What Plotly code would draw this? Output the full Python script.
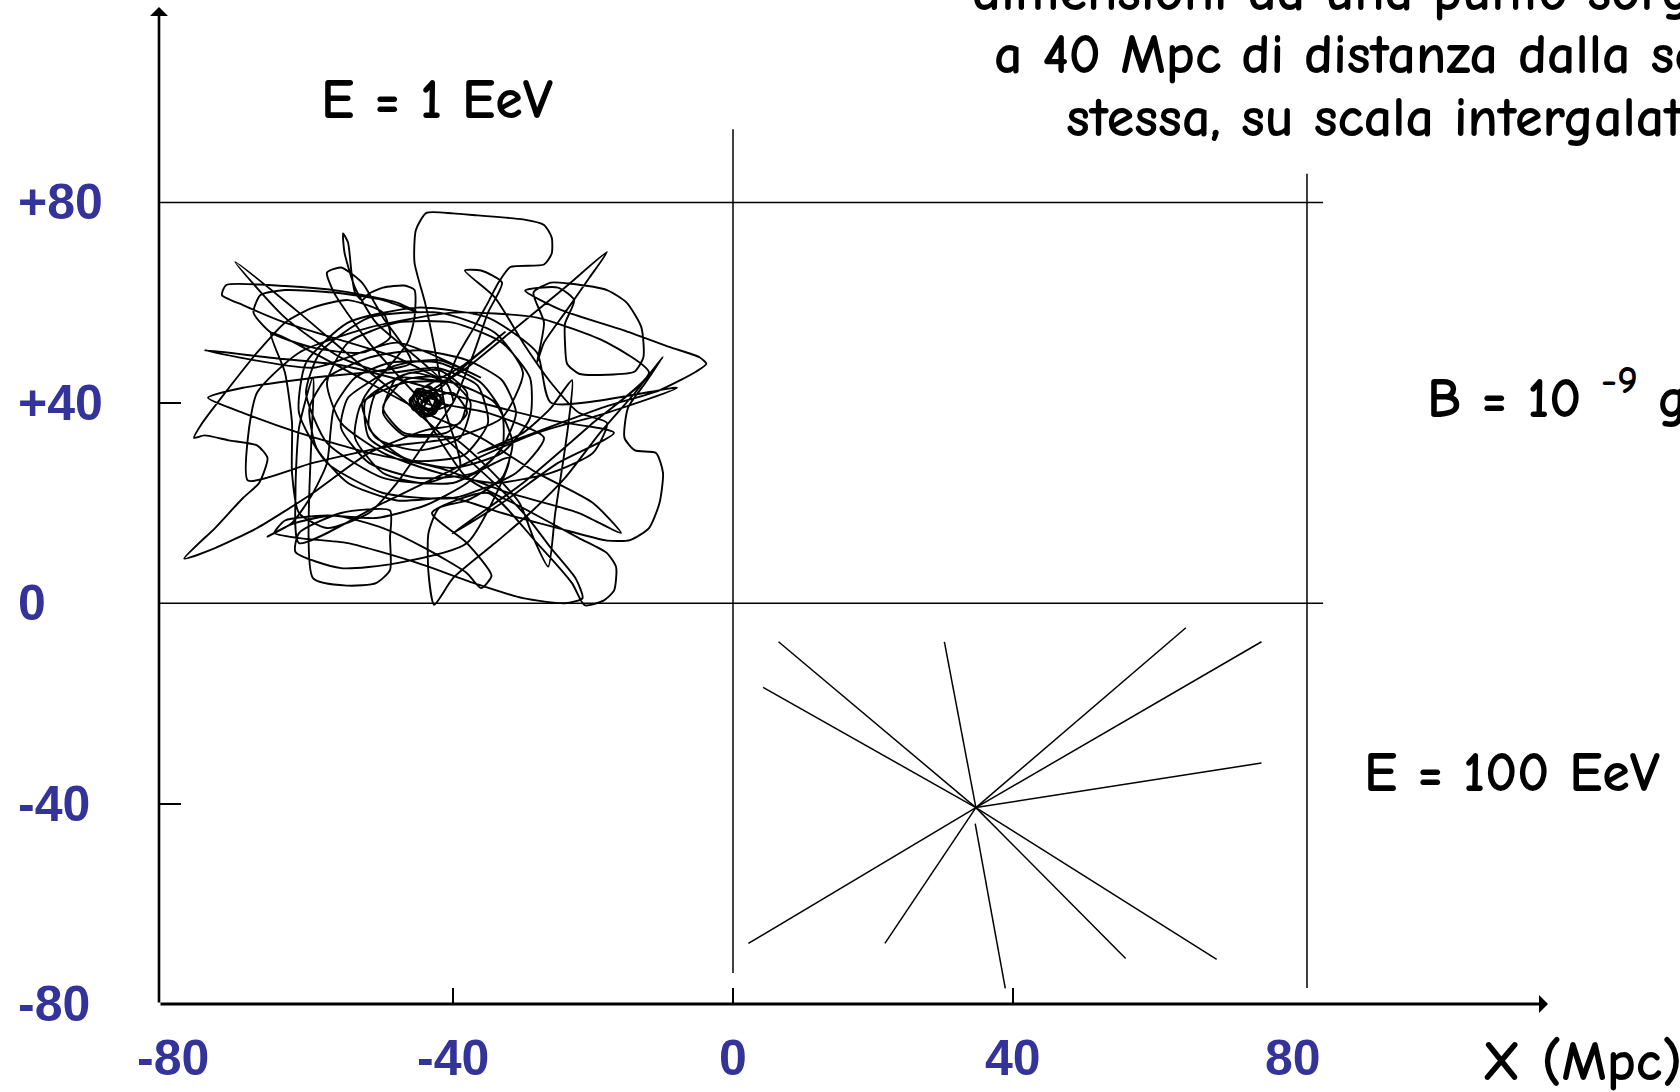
import plotly.graph_objects as go

# ---------------- data ----------------
x_tick_values = [-80, -40, 0, 40, 80]
x_tick_labels = ["-80", "-40", "0", "40", "80"]
y_tick_values = [80, 40, 0, -40, -80]
y_tick_labels = ["+80", "+40", "0", "-40", "-80"]
tick_marks_x = [-40, 0, 40]
tick_marks_y = [40, -40]

# E = 1 EeV : tangled trajectory around the source (Mpc)
walk_x = [-44.0, -42.8, -41.9, -43.6, -45.2, -44.1, -42.4, -43.1, -45.3, -44.6, -42.9, -41.4, -43.0, -45.7, -46.2, -44.0,
          -38.5, -32.6, -37.0, -41.0,
          -47.5, -52.5, -52.0, -46.0, -38.5, -35.0, -36.5, -42.5, -49.5,
          -56.0, -64.0, -71.1,
          -62.0, -54.0, -47.0, -40.0, -33.0, -29.0,
          -26.0, -22.5, -21.5, -24.0, -30.0, -37.0, -45.0, -55.0, -62.0, -65.5, -64.0, -58.0, -51.0,
          -44.0, -38.0, -33.0, -31.0, -33.0, -38.0, -45.0, -52.0, -58.0, -60.5, -59.5, -55.0, -48.0, -40.0,
          -33.0, -25.0, -18.0, -14.7, -12.0, -10.5, -10.0, -11.0, -14.0, -15.5, -15.0, -12.5, -10.0,
          -14.0, -19.0, -24.0, -29.0, -34.0, -40.0, -42.7, -43.5, -43.5, -42.0,
          -38.0, -33.0, -31.5, -34.0, -40.0, -47.0, -53.0, -54.0, -50.0, -44.0, -39.0,
          -41.0, -42.5, -44.0, -45.5, -45.3, -43.8, -40.0, -36.5, -30.0, -27.0, -25.9, -25.9, -27.0, -31.8,
          -33.5, -35.0, -37.0, -39.5, -41.0,
          -43.5, -44.8, -43.2, -42.6, -44.2,
          -38.0, -31.0, -24.0, -18.0, -20.5, -24.0, -27.0, -28.0,
          -27.0, -28.5, -26.0, -23.5, -18.0, -15.2, -13.1, -12.8, -14.1, -18.0, -22.0, -23.7, -24.0, -24.0, -22.7, -25.0,
          -29.7, -24.5, -15.7, -9.0, -4.8, -3.8, -5.3, -10.5, -18.3, -25.0, -31.3, -36.5,
          -30.0, -26.0, -23.0, -23.5, -24.3, -25.4, -26.4, -28.5, -30.5, -35.0,
          -40.0, -47.0, -50.0, -48.0, -42.0, -38.0, -39.0, -44.0,
          -52.0, -60.0, -68.0, -74.0, -78.4, -74.0, -70.0, -67.7, -66.5, -68.0, -72.0, -75.5, -77.0, -75.8, -72.0, -68.0, -64.0,
          -60.0, -55.0, -50.0, -49.0, -53.0, -60.0, -66.0, -68.5, -67.5, -64.0, -57.0, -50.0, -45.0,
          -48.0, -56.0, -64.0, -72.4, -73.0, -70.0, -64.0, -56.0, -48.0, -42.0,
          -46.0, -51.0, -54.0, -55.5, -55.7, -55.0, -54.5, -54.0, -53.0, -52.0, -50.0, -47.0, -45.5, -45.5, -46.5,
          -50.0, -55.0, -56.0, -52.0, -45.0, -37.0, -33.0, -33.0, -36.0, -42.0, -49.0, -54.0, -57.0,
          -58.0, -60.0, -63.0, -66.5, -63.0, -57.0, -50.0, -44.0, -38.0, -36.0, -34.5, -38.0, -43.0,
          -35.0, -28.0, -23.0, -21.2, -18.5, -17.0, -16.7, -18.0, -22.0, -30.0, -38.0,
          -43.0, -44.5, -43.5, -44.6,
          -40.0, -38.0, -41.0, -47.0, -50.0, -47.0, -41.0, -37.5, -39.0, -45.0, -51.0, -53.0, -49.0, -42.0, -36.0,
          -48.0, -60.0, -75.5, -66.0, -56.0, -46.0, -36.0, -26.0, -17.0,
          -25.0, -33.0, -40.1, -30.0, -20.0, -12.0,
          -18.0, -28.0, -40.0, -52.0, -62.0, -68.0, -69.3, -69.3, -60.0, -49.5, -40.0,
          -33.0, -30.0, -34.0, -42.0, -52.0, -59.0, -61.0, -58.0, -50.0, -40.0, -32.0,
          -38.0, -48.0, -56.0, -62.5, -62.0, -56.0, -49.0, -49.0, -49.0, -51.0, -55.0, -60.0,
          -60.0, -62.0, -62.5, -62.0, -50.0, -38.0, -28.0, -18.0, -8.0,
          -26.0, -28.0, -35.0, -45.0, -55.0, -61.0, -62.0, -58.0, -50.0, -40.0, -31.0, -27.0,
          -35.0, -42.0, -43.5, -44.6, -43.0, -42.3, -44.0, -45.8, -44.9, -43.2, -42.0, -43.3, -45.1, -46.0,
          -44.5, -42.6, -41.7, -43.4, -45.4, -44.3, -43.0, -44.1, -45.0, -43.7, -42.5, -44.0,
          -52.0, -57.0, -58.0, -56.0, -53.0, -50.0, -46.0,
          -60.0, -70.0, -75.0, -70.0, -62.0, -52.0, -42.0, -32.0, -22.0, -16.0,
          -20.0, -28.0, -36.0, -44.0, -52.0, -60.0, -66.0,
          -64.0, -63.0, -63.0, -62.0, -58.0, -52.0, -48.0, -44.0, -40.0, -37.0, -35.0, -33.0,
          -36.0, -38.3, -34.0, -30.0, -26.0, -22.0, -18.0, -20.0, -26.0, -34.0, -42.0, -50.0, -56.0, -58.0,
          -55.0, -48.0, -40.0, -33.0, -29.0, -29.0, -33.0, -40.0, -47.0, -52.0, -51.0, -46.0, -41.0, -40.0,
          -43.0, -44.5, -43.1, -45.6, -44.2, -42.0, -43.8, -46.1, -45.0, -42.7, -41.8, -44.3, -44.0]
walk_y = [40.0, 41.6, 39.8, 38.4, 39.9, 42.1, 41.0, 38.9, 39.4, 41.6, 42.6, 40.4, 37.9, 38.6, 40.6, 43.2,
          47.5, 54.1, 49.0, 44.5,
          45.0, 40.5, 33.0, 28.5, 29.5, 36.0, 43.5, 47.0, 46.0,
          49.0, 57.0, 68.1,
          58.0, 48.5, 40.5, 31.5, 22.5, 16.5,
          11.0, 5.0, 1.0, 0.0, 1.0, 4.0, 8.0, 12.0, 13.0, 14.0, 16.5, 17.5, 17.0,
          19.5, 24.0, 31.0, 38.0, 44.5, 48.5, 50.5, 49.0, 45.0, 39.0, 31.0, 24.0, 20.5, 21.0,
          18.0, 15.0, 12.5, 12.6, 15.0, 20.0, 26.0, 30.0, 30.5, 33.0, 39.0, 44.0, 49.2,
          42.0, 34.0, 25.0, 18.0, 12.0, 5.0, -0.3, 6.0, 14.0, 19.0,
          20.5, 25.0, 32.0, 40.0, 44.0, 44.0, 40.0, 33.0, 26.0, 24.0, 27.0,
          38.0, 50.0, 60.0, 68.0, 74.5, 77.9, 77.8, 77.4, 76.6, 75.5, 73.0, 69.8, 67.6, 67.1,
          64.0, 60.0, 55.0, 49.0, 44.0,
          41.0, 39.3, 38.6, 40.6, 41.2,
          47.0, 55.0, 63.0, 70.1, 65.0, 58.0, 52.0, 48.0,
          56.0, 62.0, 64.0, 63.8, 62.5, 60.0, 55.1, 49.1, 46.2, 45.6, 45.8, 47.8, 52.0, 55.8, 60.5, 63.0,
          62.4, 58.5, 54.5, 51.1, 49.1, 47.8, 46.2, 42.5, 39.2, 35.8, 32.5, 29.9,
          34.0, 39.0, 44.5, 36.0, 28.0, 18.0, 7.3, 13.0, 20.0, 27.0,
          33.0, 33.5, 38.0, 45.0, 46.5, 42.0, 36.0, 34.5,
          30.0, 22.0, 15.0, 11.0, 8.9, 15.0, 21.0, 24.0, 29.0, 31.5, 32.5, 33.5, 33.0, 36.0, 43.0, 50.0, 56.0,
          59.0, 60.5, 58.0, 53.0, 50.0, 51.0, 54.0, 58.0, 61.5, 62.5, 62.0, 60.5, 58.0,
          60.0, 62.3, 63.3, 63.5, 61.5, 59.5, 56.0, 52.5, 49.0, 45.0,
          50.0, 56.0, 63.0, 70.0, 73.8, 72.0, 66.0, 62.0, 60.5, 61.8, 63.0, 63.4, 62.5, 57.0, 52.0,
          46.0, 41.0, 35.0, 28.0, 25.0, 26.0, 31.0, 38.0, 44.0, 48.0, 48.0, 45.0, 39.0,
          28.0, 22.0, 16.0, 13.3, 15.8, 17.5, 15.0, 11.0, 6.0, 3.0, 5.5, 12.0, 18.0,
          22.0, 12.0, 4.0, -0.4, 0.5, 2.5, 7.2, 10.0, 13.0, 19.0, 25.0,
          35.0, 38.5, 40.5, 40.2,
          42.0, 38.0, 34.0, 34.0, 39.0, 44.5, 45.0, 40.0, 33.0, 30.5, 33.0, 40.0, 47.0, 48.5, 45.0,
          52.0, 47.0, 50.5, 49.0, 47.5, 44.0, 40.0, 36.5, 34.0,
          28.0, 20.0, 13.9, 24.0, 36.0, 46.0,
          52.0, 57.0, 58.0, 55.0, 50.0, 42.0, 33.0, 24.5, 28.0, 31.2, 33.0,
          37.0, 46.0, 54.0, 58.0, 57.0, 50.0, 42.0, 32.0, 25.0, 24.0, 29.0,
          12.0, 8.0, 7.0, 10.2, 14.0, 18.0, 18.5, 13.0, 6.6, 4.0, 3.5, 5.0,
          45.0, 35.0, 22.0, 12.0, 20.0, 28.0, 34.0, 38.0, 43.0,
          40.0, 50.0, 57.0, 59.0, 56.0, 48.0, 38.0, 28.0, 22.0, 21.0, 26.0, 33.0,
          38.0, 40.0, 41.5, 39.2, 38.1, 40.3, 42.4, 41.0, 38.0, 37.4, 39.5, 42.1, 42.8, 40.1,
          37.2, 37.8, 40.6, 43.3, 42.0, 38.8, 39.0, 41.8, 40.4, 37.6, 39.2, 40.0,
          52.0, 62.0, 66.0, 67.0, 64.0, 57.0, 48.0,
          45.0, 43.0, 41.0, 38.0, 34.0, 30.0, 27.0, 22.0, 18.0, 14.0,
          20.0, 26.0, 33.0, 38.0, 44.0, 50.0, 54.0,
          46.0, 36.0, 26.0, 18.0, 15.0, 18.0, 24.0, 32.0, 40.0, 50.0, 58.0, 64.0,
          66.4, 66.4, 61.0, 52.0, 44.0, 38.0, 36.0, 30.0, 26.0, 24.0, 26.0, 30.0, 36.0, 44.0,
          52.0, 56.0, 56.0, 52.0, 45.0, 37.0, 30.0, 27.0, 29.0, 35.0, 42.0, 46.0, 44.0, 40.0,
          38.5, 39.7, 41.9, 41.3, 37.8, 39.1, 42.2, 40.5, 37.9, 38.3, 41.2, 42.5, 40.0]

# E = 100 EeV : almost straight trajectories from the source
ray_start_x = [34.7, 34.7, 34.7, 34.7, 34.7, 34.7, 34.7, 34.7, 34.6, 34.7, 34.7]
ray_start_y = [-40.8, -40.8, -40.8, -40.8, -40.8, -40.8, -40.8, -40.8, -44.0, -40.8, -40.8]
ray_end_x = [6.5, 4.3, 30.2, 64.7, 75.5, 75.5, 2.2, 21.7, 38.9, 56.1, 69.1]
ray_end_y = [-7.7, -16.8, -7.7, -4.9, -7.7, -31.9, -67.9, -67.9, -76.9, -70.9, -71.1]

# ---------------- layout constants ----------------
W, H = 1680, 1092
ML, MR, MT, MB = 159, 132, 7, 88
X_RANGE = [-82, 116.43]
Y_RANGE = [-80, 119.0]
BOX_LEFT, BOX_RIGHT = -82, 82
HLINE_END = 84.3
TEXT_FONT = "Comic Sans MS, Comic Neue, Lato, sans-serif"
LABEL_FONT = "Liberation Sans, Arial, sans-serif"
BLUE = "#333399"


def px_to_paper(px, py):
    pw, ph = W - ML - MR, H - MT - MB
    return (px - ML) / pw, (H - MB - py) / ph


fig = go.Figure()

fig.add_trace(go.Scatter(
    x=walk_x, y=walk_y, mode="lines",
    line=dict(color="black", width=1.9, shape="spline", smoothing=0.6),
    hoverinfo="skip", showlegend=False))

rx, ry = [], []
for x0, y0, x1, y1 in zip(ray_start_x, ray_start_y, ray_end_x, ray_end_y):
    rx += [x0, x1, None]
    ry += [y0, y1, None]
fig.add_trace(go.Scatter(
    x=rx, y=ry, mode="lines", line=dict(color="black", width=1.5),
    hoverinfo="skip", showlegend=False))

shapes = []
line_style = dict(color="black", width=1.5)
shapes.append(dict(type="line", xref="x", yref="y", x0=BOX_LEFT, x1=HLINE_END, y0=80, y1=80, line=line_style))
shapes.append(dict(type="line", xref="x", yref="y", x0=BOX_LEFT, x1=HLINE_END, y0=0, y1=0, line=line_style))
shapes.append(dict(type="line", xref="x", yref="y", x0=0, x1=0, y0=94.6, y1=-73.8, line=line_style))
shapes.append(dict(type="line", xref="x", yref="y", x0=BOX_RIGHT, x1=BOX_RIGHT, y0=85.7, y1=-76.8, line=line_style))

annotations = []
annotations.append(dict(x=X_RANGE[1], y=Y_RANGE[0], ax=X_RANGE[0], ay=Y_RANGE[0], xref="x", yref="y",
                        axref="x", ayref="y", text="", showarrow=True, arrowhead=1, arrowwidth=3,
                        arrowsize=1, arrowcolor="black"))
annotations.append(dict(x=X_RANGE[0], y=Y_RANGE[1], ax=X_RANGE[0], ay=Y_RANGE[0], xref="x", yref="y",
                        axref="x", ayref="y", text="", showarrow=True, arrowhead=1, arrowwidth=2.6,
                        arrowsize=1.15, arrowcolor="black"))

for v, t in zip(x_tick_values, x_tick_labels):
    annotations.append(dict(x=v, y=Y_RANGE[0], xref="x", yref="y", yshift=-54, text=f"<b>{t}</b>",
                            showarrow=False, xanchor="center", yanchor="middle",
                            font=dict(family=LABEL_FONT, size=50, color=BLUE)))
lx, _ = px_to_paper(16, 0)
for v, t in zip(y_tick_values, y_tick_labels):
    annotations.append(dict(x=lx, y=v, xref="paper", yref="y", text=f"<b>{t}</b>",
                            showarrow=False, xanchor="left", yanchor="middle",
                            font=dict(family=LABEL_FONT, size=50, color=BLUE)))


def text_at(px, py, txt, size=56):
    xp, yp = px_to_paper(px, py)
    annotations.append(dict(x=xp, y=yp, xref="paper", yref="paper", text=txt, showarrow=False,
                            xanchor="left", yanchor="middle",
                            font=dict(family=TEXT_FONT, size=size, color="black", weight="bold")))


text_at(319, 100, "E = 1 EeV")
text_at(1362, 773, "E = 100 EeV")
text_at(1425, 395, "B = 10 <sup>-9</sup> gauss")
text_at(1480, 1062, "X (Mpc)")
text_at(970, -8, "dimensioni da una punto sorgente")
text_at(992, 55, "a 40 Mpc di distanza dalla sorgente")
text_at(1064, 118, "stessa, su scala intergalattica")

fig.update_layout(
    width=W, height=H,
    margin=dict(l=ML, r=MR, t=MT, b=MB, pad=0),
    paper_bgcolor="white", plot_bgcolor="white",
    xaxis=dict(range=X_RANGE, showgrid=False, zeroline=False, showline=False,
               tickmode="array", tickvals=tick_marks_x, ticks="inside", ticklen=16,
               tickwidth=1.5, tickcolor="black", showticklabels=False, fixedrange=True),
    yaxis=dict(range=Y_RANGE, showgrid=False, zeroline=False, showline=False,
               tickmode="array", tickvals=tick_marks_y, ticks="inside", ticklen=22,
               tickwidth=1.5, tickcolor="black", showticklabels=False, fixedrange=True),
    shapes=shapes, annotations=annotations, showlegend=False,
)

fig.write_html("out.html", config={"displayModeBar": False},
               post_script="document.body.style.margin='0';document.body.style.overflow='hidden';")
